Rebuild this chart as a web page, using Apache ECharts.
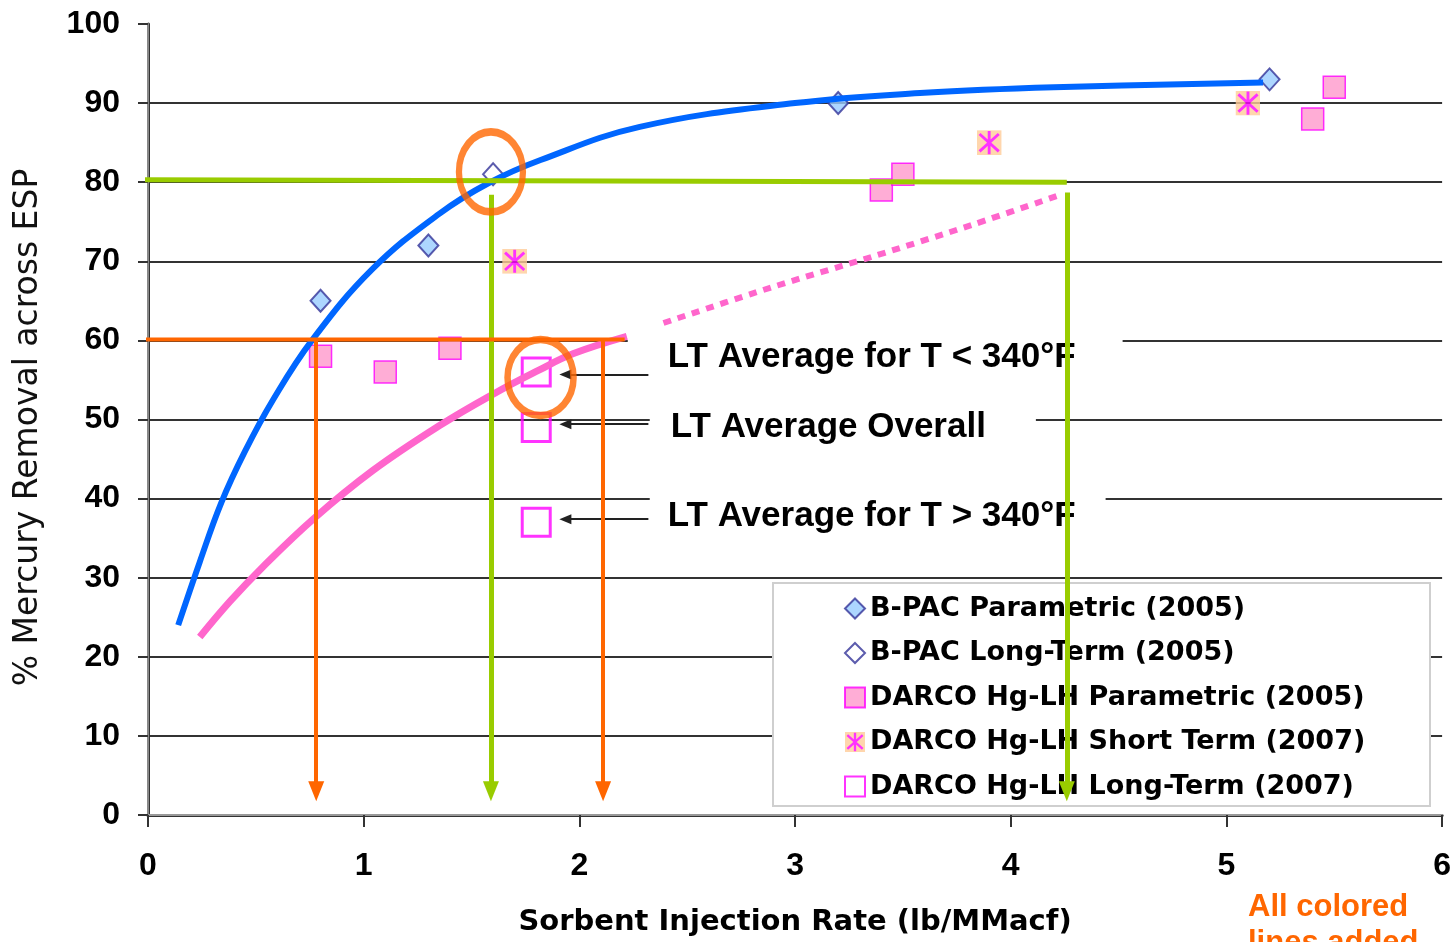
<!DOCTYPE html>
<html>
<head>
<meta charset="UTF-8">
<script src="https://cdn.jsdelivr.net/npm/echarts@6/dist/echarts.min.js"></script>
<style>
  html, body { margin: 0; padding: 0; background: #fff; }
  #chart { width: 1454px; height: 942px; }
</style>
</head>
<body>
<div id="chart"></div>
<script>
// measured points, [sorbent rate (lb/MMacf), % Hg removal]
var bpacParametric = [[0.8, 65], [1.3, 72], [3.2, 90], [5.2, 93]];
var bpacLongTerm = [[1.6, 81]];
var darcoParametric = [[0.8, 58], [1.1, 56], [1.4, 59], [3.4, 79], [3.5, 81], [5.4, 88], [5.5, 92]];
var darcoShortTerm = [[1.7, 70], [3.9, 85], [5.1, 90]];
var darcoLongTerm = [[1.8, 56], [1.8, 49], [1.8, 37]];

var seriesNames = [
  'B-PAC Parametric (2005)',
  'B-PAC Long-Term (2005)',
  'DARCO Hg-LH Parametric (2005)',
  'DARCO Hg-LH Short Term (2007)',
  'DARCO Hg-LH Long-Term (2007)'
];

// fitted curves
var bpacCurve = [[0.14, 24], [0.24, 32], [0.34, 39.5], [0.45, 46], [0.58, 52.5], [0.76, 60], [1.04, 69],
  [1.35, 76], [1.58, 79.9], [1.82, 82.8], [2.28, 87], [3.0, 90], [3.6, 91.3], [4.2, 92], [5.17, 92.6]];
var darcoCurve = [[0.24, 22.5], [0.38, 27], [0.53, 31.3], [0.77, 37.5], [1.04, 43.5], [1.35, 49.2],
  [1.6, 53.2], [1.81, 56.2], [1.97, 58.3], [2.22, 60.5]];
var darcoCurveExt = [[2.39, 62.2], [2.89, 66.7], [3.36, 70.6], [3.82, 74.6], [4.24, 78.5]];

// LT average callouts
var ltLabels = ['LT Average for T < 340°F', 'LT Average Overall', 'LT Average for T > 340°F'];
var ltLabelAt = [[2.222, 57.8], [2.324, 49.0], [2.324, 37.75]];
var ltArrowY = [55.7, 49.4, 37.4];
var ltArrowX = [2.32, 1.935];

// added coloured lines
var greenLevel = [[-0.04, 80.3], [4.26, 80.0]];
var greenDrops = [[1.59, 78.4], [4.26, 78.7]];
var orangeLevel = [[-0.11, 60.1], [2.21, 60.1]];
var orangeDrops = [[0.78, 60.1], [2.11, 60.1]];
var dropEnd = 3;
var circleMarks = [[1.59, 81.3], [1.82, 55.3]];
var circleSizes = [[64, 80], [66, 76]];

var xTicks = [0, 1, 2, 3, 4, 5, 6];

var starSvg = "<svg xmlns='http://www.w3.org/2000/svg' width='26' height='26' viewBox='0 0 26 26'>" +
  "<rect width='26' height='26' fill='#FFCC99'/>" +
  "<path d='M13 1V25M3 4L23 22M23 4L3 22' stroke='#FF00FF' stroke-width='3' fill='none'/></svg>";
var starSymbol = 'image://data:image/svg+xml;charset=utf-8,' + encodeURIComponent(starSvg);

var ltPadding = [[8, 47, 8, 40], [8, 50, 8, 21], [8, 30, 8, 18]];

var chart = echarts.init(document.getElementById('chart'));

function drops(list) {
  return list.map(function (p) {
    return [{ coord: [p[0], p[1]] }, { coord: [p[0], dropEnd] }];
  });
}

var option = {
  animation: false,
  backgroundColor: '#fff',
  grid: { left: 148, right: 10, top: 24, bottom: 126 },
  legend: {
    data: seriesNames,
    orient: 'vertical',
    left: 844,
    top: 595,
    padding: 0,
    itemWidth: 20,
    itemHeight: 20,
    itemGap: 17.5,
    selectedMode: false,
    textStyle: { fontFamily: 'DejaVu Sans', fontWeight: 'bold', fontSize: 27, color: '#000', lineHeight: 26 }
  },
  xAxis: [{
    type: 'value',
    min: 0, max: 6, interval: 1,
    axisLine: { show: true, lineStyle: { color: '#333', width: 3 } },
    axisTick: { show: true, length: 12, lineStyle: { color: '#333', width: 2 } },
    axisLabel: {
      margin: 35, color: '#000', fontFamily: 'Liberation Sans', fontWeight: 'bold', fontSize: 32,
      formatter: function (v) { return xTicks.indexOf(v) >= 0 ? String(v) : ''; }
    },
    splitLine: { show: false },
    name: 'Sorbent Injection Rate (lb/MMacf)',
    nameLocation: 'middle',
    nameGap: 93,
    nameTextStyle: { fontFamily: 'DejaVu Sans', fontWeight: 'bold', fontSize: 29, color: '#000' }
  }, {
    type: 'value', position: 'top', min: 0, max: 6,
    axisLine: { show: true, lineStyle: { color: '#999', width: 2 } },
    axisTick: { show: false }, axisLabel: { show: false }, splitLine: { show: false }
  }],
  yAxis: [{
    type: 'value',
    min: 0, max: 100, interval: 10,
    axisLine: { show: true, lineStyle: { color: '#333', width: 3 } },
    axisTick: { show: true, length: 10, lineStyle: { color: '#333', width: 2 } },
    axisLabel: { margin: 28, color: '#000', fontFamily: 'Liberation Sans', fontWeight: 'bold', fontSize: 32 },
    splitLine: { show: true, showMaxLine: false, lineStyle: { color: '#333', width: 2 } },
    name: '% Mercury Removal across ESP',
    nameLocation: 'middle',
    nameGap: 103,
    nameTextStyle: { fontFamily: 'DejaVu Sans', fontSize: 33, color: '#111', padding: [0, 16, 0, 0] }
  }, {
    type: 'value', position: 'right', min: 0, max: 100,
    axisLine: { show: true, lineStyle: { color: '#888', width: 2 } },
    axisTick: { show: false }, axisLabel: { show: false }, splitLine: { show: false }
  }],
  graphic: [{
    type: 'rect', z: 3,
    shape: { x: 773, y: 583, width: 657, height: 223 },
    style: { fill: '#fff', stroke: '#cfcfcf', lineWidth: 2 }
  }, {
    type: 'text', left: 1248, top: 889, z: 10,
    style: {
      text: 'All colored\nlines added', fill: '#FF6600',
      font: 'bold 31px "Liberation Sans"', lineHeight: 36
    }
  }],
  series: [
    {
      // callout texts, white boxes hide the grid behind them
      name: 'ltLabels', type: 'scatter', z: 1, silent: true,
      symbolSize: 1, itemStyle: { color: '#fff', opacity: 1 },
      data: ltLabelAt.map(function (p, i) {
        return {
          value: p, name: ltLabels[i],
          label: { padding: ltPadding[i] }
        };
      }),
      label: {
        show: true, position: 'right', distance: 0, opacity: 1,
        formatter: '{b}', backgroundColor: '#fff', textBorderWidth: 0,
        fontFamily: 'Liberation Sans', fontWeight: 'bold', fontSize: 35, lineHeight: 34, color: '#000'
      },
      markLine: {
        silent: true, symbol: ['none', 'triangle'], symbolSize: [10, 12],
        lineStyle: { color: '#222', width: 2, type: 'solid' },
        label: { show: false },
        data: ltArrowY.map(function (y) {
          return [{ coord: [ltArrowX[0], y] }, { coord: [ltArrowX[1], y] }];
        })
      }
    },
    {
      name: seriesNames[0], type: 'scatter', z: 2, symbol: 'diamond', symbolSize: [20, 22],
      itemStyle: { color: '#99CCFF', borderColor: '#333399', borderWidth: 2 },
      data: bpacParametric
    },
    {
      name: seriesNames[1], type: 'scatter', z: 2, symbol: 'diamond', symbolSize: [20, 22],
      itemStyle: { color: '#fff', borderColor: '#333399', borderWidth: 2 },
      data: bpacLongTerm
    },
    {
      name: seriesNames[2], type: 'scatter', z: 2, symbol: 'rect', symbolSize: 22,
      itemStyle: { color: '#FF99CC', borderColor: '#FF00FF', borderWidth: 1.5 },
      data: darcoParametric
    },
    {
      name: seriesNames[3], type: 'scatter', z: 2, symbol: starSymbol, symbolSize: 25,
      data: darcoShortTerm
    },
    {
      name: seriesNames[4], type: 'scatter', z: 2, symbol: 'rect', symbolSize: 28,
      itemStyle: { color: 'rgba(255,255,255,0)', borderColor: '#FF00FF', borderWidth: 3 },
      data: darcoLongTerm
    },
    {
      name: 'bpacCurve', type: 'line', z: 4, smooth: 0.4, showSymbol: false, silent: true,
      lineStyle: { color: '#0066FF', width: 6 },
      data: bpacCurve
    },
    {
      name: 'darcoCurve', type: 'line', z: 4, smooth: 0.4, showSymbol: false, silent: true,
      lineStyle: { color: '#FF66CC', width: 7 },
      data: darcoCurve
    },
    {
      name: 'darcoCurveExt', type: 'line', z: 4, smooth: 0.3, showSymbol: false, silent: true,
      lineStyle: { color: '#FF66CC', width: 6, type: [8, 7] },
      data: darcoCurveExt
    },
    {
      name: 'greenLines', type: 'line', z: 5, clip: false, showSymbol: false, silent: true,
      lineStyle: { color: '#99CC00', width: 5 },
      data: greenLevel,
      markLine: {
        silent: true, symbol: ['none', 'triangle'], symbolSize: [16, 20],
        lineStyle: { color: '#99CC00', width: 5, type: 'solid' },
        label: { show: false },
        data: drops(greenDrops)
      }
    },
    {
      name: 'orangeLines', type: 'line', z: 5, clip: false, showSymbol: false, silent: true,
      lineStyle: { color: '#FF6600', width: 4 },
      data: orangeLevel,
      markLine: {
        silent: true, symbol: ['none', 'triangle'], symbolSize: [16, 20],
        lineStyle: { color: '#FF6600', width: 4, type: 'solid' },
        label: { show: false },
        data: drops(orangeDrops)
      }
    },
    {
      name: 'circles', type: 'scatter', z: 6, silent: true,
      symbol: 'path://M0,50A50,50,0,1,1,100,50A50,50,0,1,1,0,50Z',
      itemStyle: { color: 'rgba(0,0,0,0)', borderColor: '#FF6600', borderWidth: 7 },
      data: circleMarks.map(function (p, i) {
        return { value: p, symbolSize: circleSizes[i] };
      })
    }
  ]
};

chart.setOption(option);
</script>
</body>
</html>
